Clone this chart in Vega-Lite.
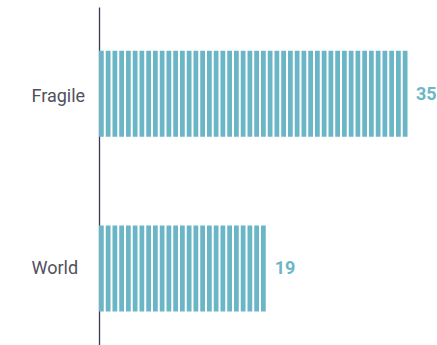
{
  "$schema": "https://vega.github.io/schema/vega-lite/v6.json",
  "autosize": "none",
  "width": 309,
  "height": 338,
  "padding": {"left": 99, "top": 7, "right": 29, "bottom": 0},
  "background": "white",
  "config": {
    "view": {"stroke": null},
    "font": "Roboto"
  },
  "data": {
    "values": [
      {"group": "Fragile", "value": 35},
      {"group": "World", "value": 19}
    ]
  },
  "encoding": {
    "y": {
      "field": "group",
      "type": "nominal",
      "sort": ["Fragile", "World"],
      "scale": {"type": "point", "padding": 0.467, "align": 0.531},
      "axis": {
        "title": null,
        "ticks": false,
        "tickSize": 0,
        "domainColor": "#3a3852",
        "domainWidth": 1.3,
        "labelAlign": "left",
        "labelPadding": 68,
        "labelFont": "Roboto",
        "labelFontSize": 18,
        "labelColor": "#50505e",
        "labelBaseline": "middle",
        "labelOffset": {
          "condition": {"test": "datum.value === 'Fragile'", "value": 3},
          "value": 0
        }
      }
    }
  },
  "layer": [
    {
      "mark": {
        "type": "rule",
        "color": "#6bb6c6",
        "strokeWidth": 86,
        "strokeCap": "butt",
        "strokeDash": [4.75, 2]
      },
      "encoding": {
        "x": {
          "datum": 0,
          "type": "quantitative",
          "scale": {"domain": [0, 35]},
          "axis": null
        },
        "x2": {"field": "value", "type": "quantitative"}
      }
    },
    {
      "mark": {
        "type": "text",
        "align": "left",
        "baseline": "middle",
        "dx": 8,
        "dy": 1,
        "font": "Roboto",
        "fontSize": 18,
        "fontWeight": "bold",
        "color": "#6bb6c6"
      },
      "encoding": {
        "x": {"field": "value", "type": "quantitative"},
        "text": {"field": "value", "type": "quantitative"}
      }
    }
  ]
}
